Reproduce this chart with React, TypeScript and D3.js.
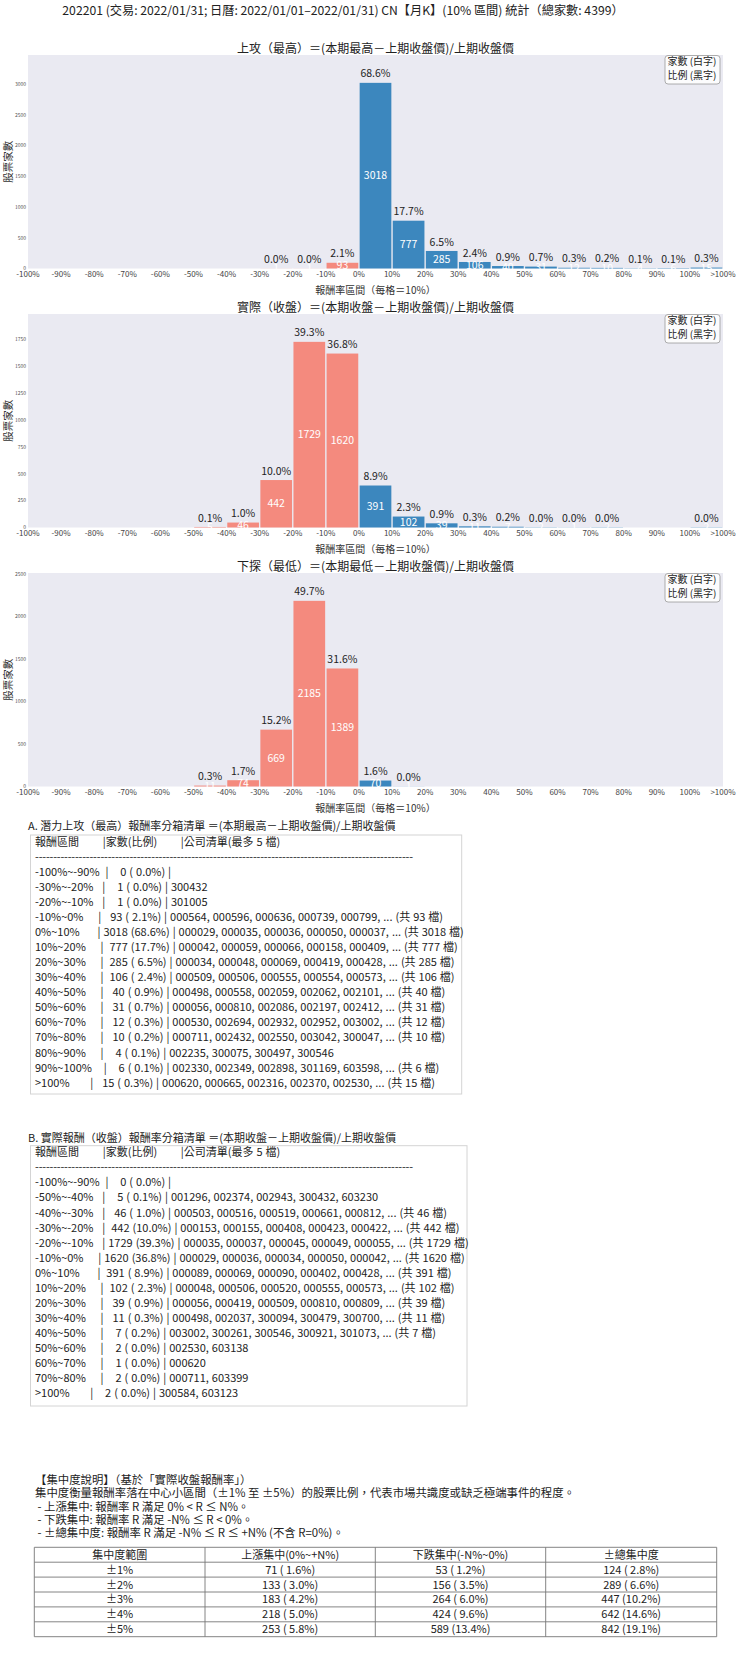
import React from 'react';
import * as d3 from 'd3';

const TOTAL = 4399;
const FONT = "'Noto Sans CJK TC', 'Noto Sans CJK SC', 'Noto Sans', sans-serif";

const suptitle = '202201 (交易: 2022/01/31; 日曆: 2022/01/01–2022/01/31) CN【月K】(10% 區間) 統計（總家數: 4399）';

const binTickLabels = ['-100%', '-90%', '-80%', '-70%', '-60%', '-50%', '-40%', '-30%', '-20%', '-10%', '0%', '10%', '20%', '30%', '40%', '50%', '60%', '70%', '80%', '90%', '100%', '>100%'];
const binRangeLabels = ['-100%~-90%', '-90%~-80%', '-80%~-70%', '-70%~-60%', '-60%~-50%', '-50%~-40%', '-40%~-30%', '-30%~-20%', '-20%~-10%', '-10%~0%', '0%~10%', '10%~20%', '20%~30%', '30%~40%', '40%~50%', '50%~60%', '60%~70%', '70%~80%', '80%~90%', '90%~100%', '>100%'];

const highCounts = [0, 0, 0, 0, 0, 0, 0, 1, 1, 93, 3018, 777, 285, 106, 40, 31, 12, 10, 4, 6, 15];
const closeCounts = [0, 0, 0, 0, 0, 5, 46, 442, 1729, 1620, 391, 102, 39, 11, 7, 2, 1, 2, 0, 0, 2];
const lowCounts = [0, 0, 0, 0, 0, 11, 74, 669, 2185, 1389, 70, 1, 0, 0, 0, 0, 0, 0, 0, 0, 0];

const chartTitles = [
  '上攻（最高）＝(本期最高－上期收盤價)/上期收盤價',
  '實際（收盤）＝(本期收盤－上期收盤價)/上期收盤價',
  '下探（最低）＝(本期最低－上期收盤價)/上期收盤價',
];
const highTicks = [0, 500, 1000, 1500, 2000, 2500, 3000];
const closeTicks = [0, 250, 500, 750, 1000, 1250, 1500, 1750];
const lowTicks = [0, 500, 1000, 1500, 2000, 2500];

const xLabel = '報酬率區間（每格＝10%）';
const yLabel = '股票家數';
const legendLines = ['家數 (白字)', '比例 (黑字)'];

const boxAHeading = 'A. 潛力上攻（最高）報酬率分箱清單 ＝(本期最高－上期收盤價)/上期收盤價';
const boxBHeading = 'B. 實際報酬（收盤）報酬率分箱清單 ＝(本期收盤－上期收盤價)/上期收盤價';
const boxHeader = '報酬區間        |家數(比例)        |公司清單(最多 5 檔)';

const boxACodes = [
  [],
  ['300432'],
  ['301005'],
  ['000564', '000596', '000636', '000739', '000799'],
  ['000029', '000035', '000036', '000050', '000037'],
  ['000042', '000059', '000066', '000158', '000409'],
  ['000034', '000048', '000069', '000419', '000428'],
  ['000509', '000506', '000555', '000554', '000573'],
  ['000498', '000558', '002059', '002062', '002101'],
  ['000056', '000810', '002086', '002197', '002412'],
  ['000530', '002694', '002932', '002952', '003002'],
  ['000711', '002432', '002550', '003042', '300047'],
  ['002235', '300075', '300497', '300546'],
  ['002330', '002349', '002898', '301169', '603598'],
  ['000620', '000665', '002316', '002370', '002530'],
];
const boxBCodes = [
  [],
  ['001296', '002374', '002943', '300432', '603230'],
  ['000503', '000516', '000519', '000661', '000812'],
  ['000153', '000155', '000408', '000423', '000422'],
  ['000035', '000037', '000045', '000049', '000055'],
  ['000029', '000036', '000034', '000050', '000042'],
  ['000089', '000069', '000090', '000402', '000428'],
  ['000048', '000506', '000520', '000555', '000573'],
  ['000056', '000419', '000509', '000810', '000809'],
  ['000498', '002037', '300094', '300479', '300700'],
  ['003002', '300261', '300546', '300921', '301073'],
  ['002530', '603138'],
  ['000620'],
  ['000711', '603399'],
  ['300584', '603123'],
];

const concLines = [
  '【集中度說明】（基於「實際收盤報酬率」）',
  '集中度衡量報酬率落在中心小區間（±1% 至 ±5%）的股票比例，代表市場共識度或缺乏極端事件的程度。',
  ' - 上漲集中: 報酬率 R 滿足 0% < R ≤ N%。',
  ' - 下跌集中: 報酬率 R 滿足 -N% ≤ R < 0%。',
  ' - ±總集中度: 報酬率 R 滿足 -N% ≤ R ≤ +N% (不含 R=0%)。',
];
const concHeaders = ['集中度範圍', '上漲集中(0%~+N%)', '下跌集中(-N%~0%)', '±總集中度'];
const concRanges = ['±1%', '±2%', '±3%', '±4%', '±5%'];
const concUp = [71, 133, 183, 218, 253];
const concDown = [53, 156, 264, 424, 589];
const concTotal = [124, 289, 447, 642, 842];

const RED = '#f48a7e';
const BLUE = '#3c87be';
const BG = '#eaeaf2';

const PL = 28;
const PR = 723;
const PH = 213.5;
const tops = [55, 314, 573];

const pctStr = (c: number) => ((c / TOTAL) * 100).toFixed(1);

function Chart({ counts, top, title, ticks }: { counts: number[]; top: number; title: string; ticks: number[] }) {
  const bottom = top + PH;
  const x = d3.scaleLinear().domain([0, counts.length]).range([PL, PR]);
  const ymax = (d3.max(counts) as number) * 1.15;
  const y = d3.scaleLinear().domain([0, ymax]).range([bottom, top]);
  return (
    <g>
      <text x={(PL + PR) / 2} y={top - 2.4} fontSize={12} textAnchor="middle" fill="#222">{title}</text>
      <rect x={PL} y={top} width={PR - PL} height={PH} fill={BG} />
      {ticks.map((t) => (
        <text key={t} x={PL - 2} y={y(t) + 1.8} fontSize={5} textAnchor="end" fill="#555">{t}</text>
      ))}
      {binTickLabels.map((l, i) => (
        <text key={l} x={x(i)} y={bottom + 8} fontSize={8} textAnchor="middle" fill="#444">{l}</text>
      ))}
      {counts.map((c, i) =>
        c > 0 ? (
          <rect key={'b' + i} x={x(i) + 0.7} y={y(c)} width={x(i + 1) - x(i) - 1.4} height={bottom - y(c)} fill={i < 10 ? RED : BLUE} />
        ) : null
      )}
      {counts.map((c, i) =>
        c > 0 ? (
          <g key={'l' + i}>
            <text x={(x(i) + x(i + 1)) / 2} y={(y(c) + bottom) / 2 + 3.6} fontSize={10.5} textAnchor="middle" fill="#fff">{c}</text>
            <text x={(x(i) + x(i + 1)) / 2} y={y(c) - 5.4} fontSize={10.5} textAnchor="middle" fill="#222">{pctStr(c) + '%'}</text>
          </g>
        ) : null
      )}
      <text x={(PL + PR) / 2} y={bottom + 25.5} fontSize={10} textAnchor="middle" fill="#333">{xLabel}</text>
      <text transform={`translate(12.3,${(top + bottom) / 2}) rotate(-90)`} fontSize={10.5} textAnchor="middle" fill="#333">{yLabel}</text>
      <rect x={PR - 58} y={top + 0.5} width={55} height={28.5} rx={3} fill="#fff" fillOpacity={0.85} stroke="#999" strokeWidth={0.8} />
      {legendLines.map((l, k) => (
        <text key={l} x={PR - 55.5} y={top + 9.8 + k * 14.3} fontSize={10} fill="#222">{l}</text>
      ))}
    </g>
  );
}

function rowLine(range: string, c: number, codes: string[]) {
  let s = range.padEnd(12) + '|' + String(c).padStart(5) + ' (' + pctStr(c).padStart(4) + '%) |';
  if (codes.length) {
    s += ' ' + codes.join(', ');
    if (c > codes.length) s += `, ... (共 ${c} 檔)`;
  }
  return s;
}

function ListBox({ heading, headingY, boxTop, boxBottom, boxRight, counts, codes }: any) {
  const idx = counts.map((c: number, i: number) => i).filter((i: number) => i === 0 || counts[i] > 0);
  const firstBase = boxTop + 10.6 + 30.1;
  const lh = 15.07;
  const pre = { whiteSpace: 'pre' as const, wordSpacing: '0.5px' };
  return (
    <g fontSize={11} fill="#222">
      <text x={28} y={headingY}>{heading}</text>
      <rect x={30.5} y={boxTop} width={boxRight - 30.5} height={boxBottom - boxTop} fill="#fff" stroke="#d4d4d4" strokeWidth={1} />
      <text x={35} y={boxTop + 10.6} style={pre}>{boxHeader}</text>
      <text x={35} y={boxTop + 10.6 + lh} textLength={378} lengthAdjust="spacing">{'-'.repeat(104)}</text>
      {idx.map((i: number, k: number) => (
        <text key={i} x={35} y={firstBase + k * lh} style={pre}>
          {rowLine(binRangeLabels[i], counts[i], codes[k])}
        </text>
      ))}
    </g>
  );
}

function ConcTable() {
  const cols = [34.3, 205, 375.3, 545.7, 716.7];
  const rowTop = 1547.3;
  const rh = 14.9;
  const rows = [concHeaders, ...concRanges.map((r, i) => [
    r,
    `${concUp[i]} (${pctStr(concUp[i]).padStart(4)}%)`,
    `${concDown[i]} (${pctStr(concDown[i]).padStart(4)}%)`,
    `${concTotal[i]} (${pctStr(concTotal[i]).padStart(4)}%)`,
  ])];
  return (
    <g fill="#222">
      {concLines.map((l, k) => (
        <text key={k} x={35} y={1484 + k * 13.33} fontSize={11.4} style={{ whiteSpace: 'pre' }}>{l}</text>
      ))}
      {rows.map((r, ri) => (
        <g key={ri}>
          {r.map((cell, ci) => (
            <text key={ci} x={(cols[ci] + cols[ci + 1]) / 2} y={rowTop + ri * rh + rh / 2 + 4} fontSize={11} textAnchor="middle" style={{ whiteSpace: 'pre' }}>{cell}</text>
          ))}
        </g>
      ))}
      {d3.range(rows.length + 1).map((k) => (
        <line key={'h' + k} x1={cols[0]} x2={cols[4]} y1={rowTop + k * rh} y2={rowTop + k * rh} stroke="#777" strokeWidth={0.9} />
      ))}
      {cols.map((cx, k) => (
        <line key={'v' + k} x1={cx} x2={cx} y1={rowTop} y2={rowTop + rows.length * rh} stroke="#777" strokeWidth={0.9} />
      ))}
    </g>
  );
}

export default function App() {
  return (
    <svg width={740} height={1660} style={{ position: 'absolute', left: 0, top: 0, background: '#fff' }} fontFamily={FONT}>
      <rect width={740} height={1660} fill="#fff" />
      <text x={343} y={14.5} fontSize={12.2} textAnchor="middle" fill="#222">{suptitle}</text>
      <Chart counts={highCounts} top={tops[0]} title={chartTitles[0]} ticks={highTicks} />
      <Chart counts={closeCounts} top={tops[1]} title={chartTitles[1]} ticks={closeTicks} />
      <Chart counts={lowCounts} top={tops[2]} title={chartTitles[2]} ticks={lowTicks} />
      <ListBox heading={boxAHeading} headingY={830} boxTop={835} boxBottom={1094} boxRight={461.7} counts={highCounts} codes={boxACodes} />
      <ListBox heading={boxBHeading} headingY={1141.7} boxTop={1145.7} boxBottom={1406} boxRight={467} counts={closeCounts} codes={boxBCodes} />
      <ConcTable />
    </svg>
  );
}
